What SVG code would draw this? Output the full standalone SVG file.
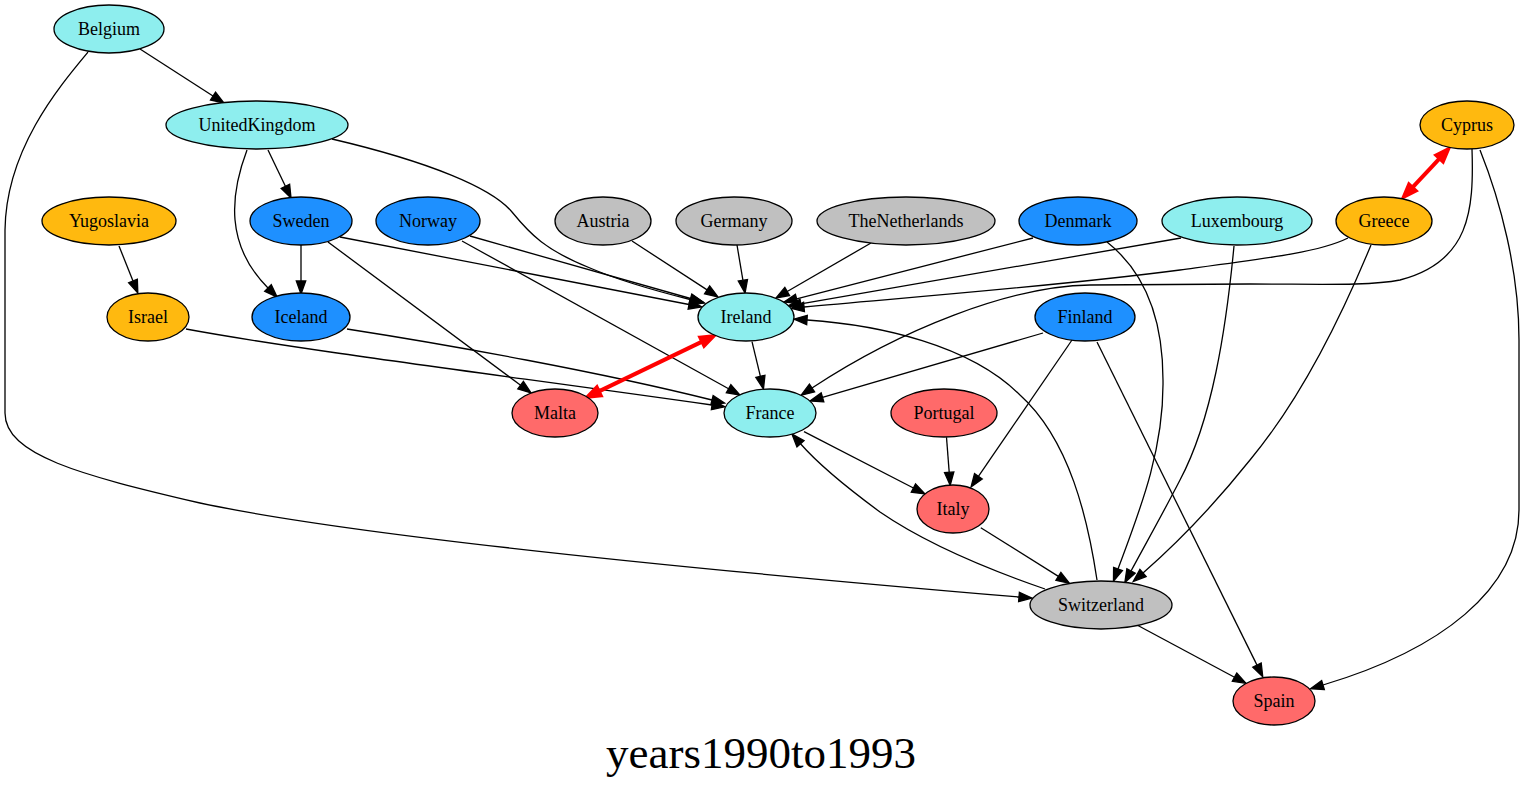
<svg xmlns="http://www.w3.org/2000/svg" width="1525" height="791" viewBox="0 0 1525 791">
<style>
.n ellipse{stroke:#000;stroke-width:1.3}
.n text{font-family:"Liberation Serif","Times New Roman",serif;font-size:18px;text-anchor:middle;fill:#000}
.cy{fill:#8EEEEE}.bl{fill:#1E90FF}.or{fill:#FFB90F}.gr{fill:#C0C0C0}.rd{fill:#FF6A6A}
.e path{fill:none;stroke:#000;stroke-width:1.3;marker-end:url(#ah)}
.e path.r{stroke:#FF0000;stroke-width:4;marker-end:url(#rh);marker-start:url(#rh)}
.title{font-family:"Liberation Serif","Times New Roman",serif;font-size:45px;text-anchor:middle;fill:#000}
</style>
<defs>
<marker id="ah" markerUnits="userSpaceOnUse" markerWidth="16" markerHeight="12" refX="0" refY="0" viewBox="0 -6 16 12" orient="auto" overflow="visible">
<path d="M0,-4.7 L13,0 L0,4.7 Z" fill="#000" stroke="#000" stroke-width="1.3"/>
</marker>
<marker id="rh" markerUnits="userSpaceOnUse" markerWidth="20" markerHeight="16" refX="0" refY="0" viewBox="0 -8 20 16" orient="auto-start-reverse" overflow="visible">
<path d="M0,-5.5 L15,0 L0,5.5 Z" fill="#FF0000" stroke="#FF0000" stroke-width="2.5"/>
</marker>
</defs>
<rect width="1525" height="791" fill="#fff"/>
<g id="edges" class="e">
<path d="M140,49 L213,96"/>
<path d="M88,52 C58,88 6,150 5,230 L5,413 C5,455 80,475 200,503 C350,535 700,570 1019,597"/>
<path d="M268,150 L285.4,186.3"/>
<path d="M247,150 C230,195 225,245 268,288"/>
<path d="M332,139 C430,162 492,188 512,212 C530,234 545,250 590,268 C620,281 660,292 692,300"/>
<path d="M119,246 L133,281"/>
<path d="M301,245 L301,281"/>
<path d="M340,237 L689,304.5"/>
<path d="M328,242 L520.6,385.2"/>
<path d="M470,236 L690.5,298.5"/>
<path d="M462,241 L728.6,388.7"/>
<path d="M632,241 L707.1,289.9"/>
<path d="M737,245 L742.9,280.2"/>
<path d="M871,243 L787.2,291.5"/>
<path d="M1033,238 L796.6,298.8"/>
<path d="M1107,242 C1145,272 1163,320 1163,380 C1164,450 1140,510 1118,569"/>
<path d="M1181,238 L800.8,303.8"/>
<path d="M1234,246 C1226,330 1212,420 1180,480 C1162,515 1145,545 1131,571"/>
<path d="M1348,238 C1320,252 1270,258 1180,270 C1050,287 900,298 804,307"/>
<path d="M1371,245 C1340,320 1300,400 1250,460 C1210,510 1175,545 1143,573"/>
<path class="r" d="M1412.8,187.2 L1439.2,158.8"/>
<path d="M1472,149 C1474,210 1470,262 1400,280 C1370,286 1320,284 1250,284 L1090,285 C1010,286 900,330 812,388"/>
<path d="M1480,150 C1500,200 1519,270 1519,340 L1519,510 C1519,590 1440,650 1323,685"/>
<path d="M186,329 C300,350 500,375 712,405"/>
<path d="M347,329 C450,345 600,372 712,400"/>
<path class="r" d="M599.4,391.1 L701.6,341.9"/>
<path d="M752,341.7 L760.4,376.4"/>
<path d="M1043,333 L822.5,397.4"/>
<path d="M1072,340 L978.4,476.3"/>
<path d="M1097,342 L1257,665.1"/>
<path d="M804,431.7 L913.4,488"/>
<path d="M946.5,437.3 L949.2,472.3"/>
<path d="M980.8,527.7 L1058.4,576.4"/>
<path d="M1045,589 C990,570 925,543 880,512 C850,490 820,466 800.5,443.8"/>
<path d="M1097,580 C1088,520 1070,440 1020,395 C970,345 880,325 807,320"/>
<path d="M1137,625 L1234.5,677.2"/>
</g>
<g id="Belgium" class="n"><ellipse class="cy" cx="109" cy="29" rx="55" ry="24"/><text x="109" y="35">Belgium</text></g>
<g id="UnitedKingdom" class="n"><ellipse class="cy" cx="257" cy="125" rx="91" ry="24"/><text x="257" y="131">UnitedKingdom</text></g>
<g id="Cyprus" class="n"><ellipse class="or" cx="1467" cy="125" rx="47" ry="24"/><text x="1467" y="131">Cyprus</text></g>
<g id="Yugoslavia" class="n"><ellipse class="or" cx="109" cy="221" rx="67" ry="24"/><text x="109" y="227">Yugoslavia</text></g>
<g id="Sweden" class="n"><ellipse class="bl" cx="301" cy="221" rx="51" ry="24"/><text x="301" y="227">Sweden</text></g>
<g id="Norway" class="n"><ellipse class="bl" cx="428" cy="221" rx="52" ry="24"/><text x="428" y="227">Norway</text></g>
<g id="Austria" class="n"><ellipse class="gr" cx="603" cy="221" rx="48" ry="24"/><text x="603" y="227">Austria</text></g>
<g id="Germany" class="n"><ellipse class="gr" cx="734" cy="221" rx="58" ry="24"/><text x="734" y="227">Germany</text></g>
<g id="TheNetherlands" class="n"><ellipse class="gr" cx="906" cy="221" rx="89" ry="24"/><text x="906" y="227">TheNetherlands</text></g>
<g id="Denmark" class="n"><ellipse class="bl" cx="1078" cy="221" rx="59" ry="24"/><text x="1078" y="227">Denmark</text></g>
<g id="Luxembourg" class="n"><ellipse class="cy" cx="1237" cy="221" rx="75" ry="24"/><text x="1237" y="227">Luxembourg</text></g>
<g id="Greece" class="n"><ellipse class="or" cx="1384" cy="221" rx="48" ry="24"/><text x="1384" y="227">Greece</text></g>
<g id="Israel" class="n"><ellipse class="or" cx="148" cy="317" rx="41" ry="24"/><text x="148" y="323">Israel</text></g>
<g id="Iceland" class="n"><ellipse class="bl" cx="301" cy="317" rx="49" ry="24"/><text x="301" y="323">Iceland</text></g>
<g id="Ireland" class="n"><ellipse class="cy" cx="746" cy="317" rx="48" ry="24"/><text x="746" y="323">Ireland</text></g>
<g id="Finland" class="n"><ellipse class="bl" cx="1085" cy="317" rx="50" ry="24"/><text x="1085" y="323">Finland</text></g>
<g id="Malta" class="n"><ellipse class="rd" cx="555" cy="413" rx="43" ry="24"/><text x="555" y="419">Malta</text></g>
<g id="France" class="n"><ellipse class="cy" cx="770" cy="413" rx="46" ry="24"/><text x="770" y="419">France</text></g>
<g id="Portugal" class="n"><ellipse class="rd" cx="944" cy="413" rx="53" ry="24"/><text x="944" y="419">Portugal</text></g>
<g id="Italy" class="n"><ellipse class="rd" cx="953" cy="509" rx="36" ry="24"/><text x="953" y="515">Italy</text></g>
<g id="Switzerland" class="n"><ellipse class="gr" cx="1101" cy="605" rx="71" ry="24"/><text x="1101" y="611">Switzerland</text></g>
<g id="Spain" class="n"><ellipse class="rd" cx="1274" cy="701" rx="41" ry="24"/><text x="1274" y="707">Spain</text></g>
<text class="title" x="761" y="768">years1990to1993</text>
</svg>
